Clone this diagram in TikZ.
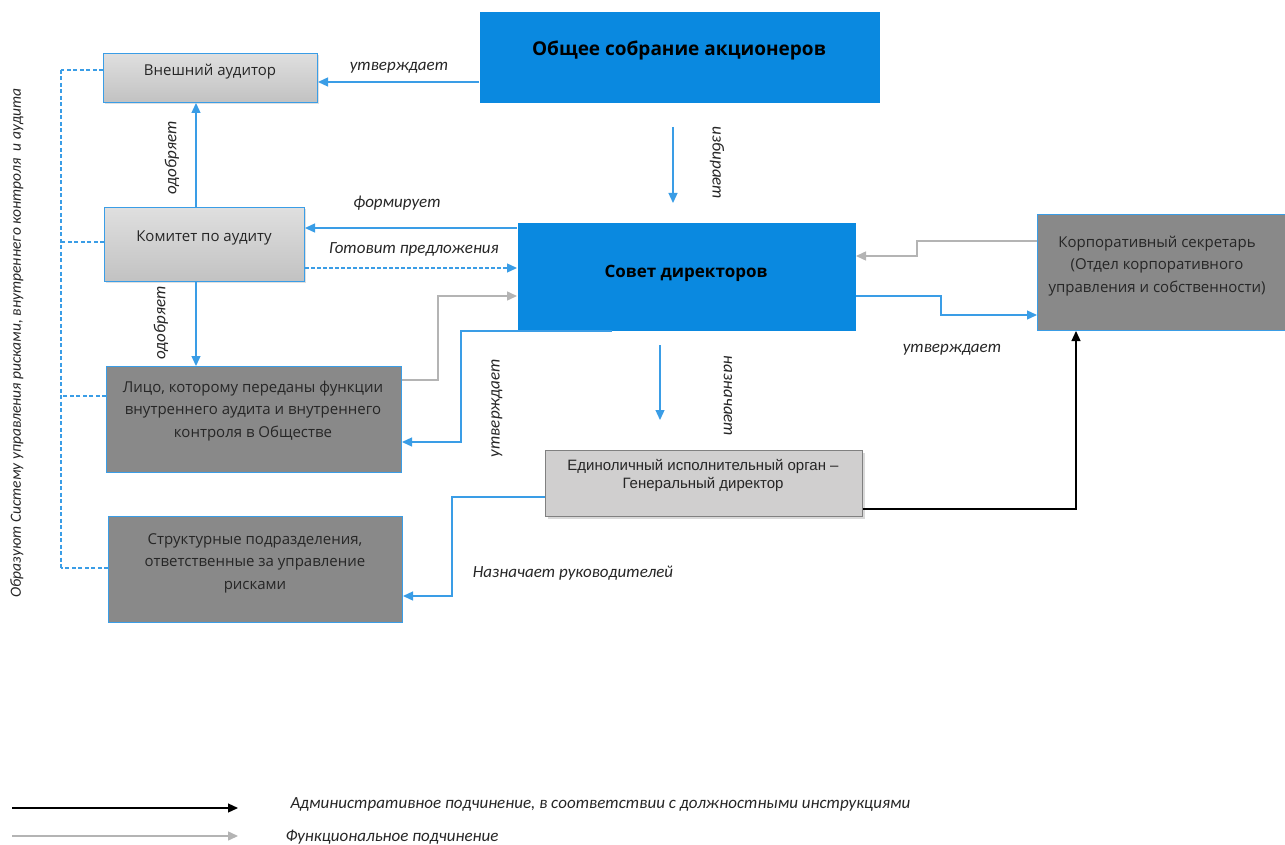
\documentclass[tikz,border=0pt]{standalone}
\usepackage{fontspec}
\setmainfont{Open Sans}
\newfontfamily\lblfont{Carlito}
\newfontfamily\arialfont{Liberation Sans}
\usetikzlibrary{arrows.meta,shadows}
\definecolor{sblue}{HTML}{0A89E0}
\definecolor{lblue}{HTML}{3A9DE6}
\definecolor{dgray}{HTML}{898989}
\definecolor{agray}{HTML}{B4B4B4}
\definecolor{lgray}{HTML}{D0CFCF}
\definecolor{tgray}{HTML}{262626}

\tikzset{
  box/.style={draw=lblue, line width=1pt, anchor=north west, inner sep=0pt},
  bluebox/.style={box, draw=none, fill=sblue},
  lightbox/.style={box, top color=gray!25, bottom color=gray!48, drop shadow={opacity=.25, shadow xshift=1.5pt, shadow yshift=-1.5pt}},
  darkbox/.style={box, fill=dgray},
  btext/.style={font=\fontsize{15}{22.5}\selectfont, text=tgray, align=center},
  lbl/.style={font=\lblfont\itshape\fontsize{17}{19}\selectfont, text=tgray},
  tip/.style={-{Triangle[length=10pt,width=9pt]}},
  barrow/.style={tip, draw=lblue, line width=1.3pt},
  garrow/.style={tip, draw=agray, line width=1.5pt},
  karrow/.style={tip, draw=black, line width=1.2pt},
  bus/.style={draw=lblue, line width=1.4pt, dash pattern=on 4pt off 2.5pt}
}

\begin{document}
\begin{tikzpicture}[x=1pt, y=-1pt]
  \useasboundingbox (0,0) rectangle (1285,845);

  % boxes
  \node[bluebox, minimum width=400pt, minimum height=91pt] (gms) at (479,12) {};
  \node[lightbox, minimum width=214pt, minimum height=49pt] (ext) at (103,53) {};
  \node[lightbox, minimum width=200pt, minimum height=74pt] (com) at (104,207) {};
  \node[bluebox, minimum width=338pt, minimum height=107pt] (bod) at (517,223) {};
  \node[darkbox, minimum width=295pt, minimum height=106pt] (ia) at (106,366) {};
  \node[darkbox, minimum width=294pt, minimum height=106pt] (risk) at (108,516) {};
  \node[box, draw=gray, fill=lgray, drop shadow={opacity=.3, shadow xshift=2pt, shadow yshift=-2pt},
        minimum width=317pt, minimum height=66pt] (ceo) at (545,450) {};
  \node[darkbox, minimum width=248pt, minimum height=116pt] (sec) at (1037,214) {};

  % box texts
  \node[btext, font=\bfseries\fontsize{19}{22}\selectfont, text=black] (gmsT) at (679,50) {Общее собрание акционеров};
  \node[btext] (extT) at (210,72) {Внешний аудитор};
  \node[btext] (comT) at (204,238) {Комитет по аудиту};
  \node[btext, font=\bfseries\fontsize{17}{20}\selectfont, text=black] (bodT) at (686,273) {Совет директоров};
  \node[btext] (iaT) at (253,411) {Лицо, которому переданы функции\\внутреннего аудита и внутреннего\\контроля в Обществе};
  \node[btext] (riskT) at (255,563) {Структурные подразделения,\\ответственные за управление\\рисками};
  \node[btext, font=\arialfont\fontsize{15}{18}\selectfont] (ceoT) at (703,475) {Единоличный исполнительный орган –\\Генеральный директор};
  \node[btext] (secT) at (1157,266) {Корпоративный секретарь\\(Отдел корпоративного\\управления и собственности)};

  % connectors
  \draw[barrow] (gms.west |- 0,82) -- (ext.east |- 0,82);
  \coordinate (gmsA) at (673,127);
  \coordinate (gmsB) at (673,203);
  \draw[barrow] (gmsA) -- (gmsB);
  \draw[barrow] (com.north -| 196,0) -- (ext.south -| 196,0);
  \draw[barrow] (com.south -| 196,0) -- (ia.north -| 196,0);
  \draw[barrow] (bod.west |- 0,228) -- (com.east |- 0,228);
  \draw[barrow, dash pattern=on 4pt off 2pt] (com.east |- 0,268) -- (bod.west |- 0,268);
  \draw[garrow] (ia.east |- 0,380) -- (438,380) -- (438,296) -- (bod.west |- 0,296);
  \draw[barrow] (bod.south -| 612,0) -- (461,331) -- (461,442) -- (ia.east |- 0,442);
  \coordinate (bodA) at (660,345);
  \coordinate (bodB) at (660,420);
  \draw[barrow] (bodA) -- (bodB);
  \draw[garrow] (sec.west |- 0,241) -- (917,241) -- (917,256) -- (bod.east |- 0,256);
  \draw[barrow] (bod.east |- 0,296) -- (941,296) -- (941,315) -- (sec.west |- 0,315);
  \draw[karrow] (ceo.east |- 0,509) -- (1076,509) -- (sec.south -| 1076,0);
  \draw[barrow] (ceo.west |- 0,497) -- (452,497) -- (452,596) -- (risk.east |- 0,596);

  % dashed bus
  \coordinate (busT) at (61,70);
  \coordinate (busB) at (61,568);
  \draw[bus] (busT) -- (busB);
  \draw[bus] (ext.west |- busT) -- (busT);
  \draw[bus] (com.west |- 0,242) -- (61,242);
  \draw[bus] (ia.west |- 0,396) -- (61,396);
  \draw[bus] (risk.west |- busB) -- (busB);

  % labels
  \node[lbl] (l1) at (399,68) {утверждает};
  \node[lbl, rotate=-90] (l2) at (717,163) {избирает};
  \node[lbl, rotate=90] (l3) at (172,158) {одобряет};
  \node[lbl, rotate=90] (l4) at (161,323) {одобряет};
  \node[lbl] (l5) at (397,203) {формирует};
  \node[lbl] (l6) at (414,249) {Готовит предложения};
  \node[lbl, rotate=90] (l7) at (497,408) {утверждает};
  \node[lbl, rotate=-90] (l8) at (728,396) {назначает};
  \node[lbl] (l9) at (952,350) {утверждает};
  \node[lbl] (l10) at (573,573) {Назначает руководителей};
  \node[lbl, font=\lblfont\itshape\fontsize{15.5}{18}\selectfont, rotate=90] (l11) at (17,343) {Образуют Систему управления рисками, внутреннего контроля~ и аудита};

  % legend
  \coordinate (legA1) at (12,808);
  \coordinate (legA2) at (238,808);
  \coordinate (legB1) at (12,836);
  \coordinate (legB2) at (238,836);
  \draw[karrow] (legA1) -- (legA2);
  \draw[garrow] (legB1) -- (legB2);
  \node[lbl, anchor=west] (legAT) at (287,804) {Административное подчинение, в соответствии с должностными инструкциями};
  \node[lbl, anchor=west] (legBT) at (282,837) {Функциональное подчинение};
\end{tikzpicture}
\end{document}
